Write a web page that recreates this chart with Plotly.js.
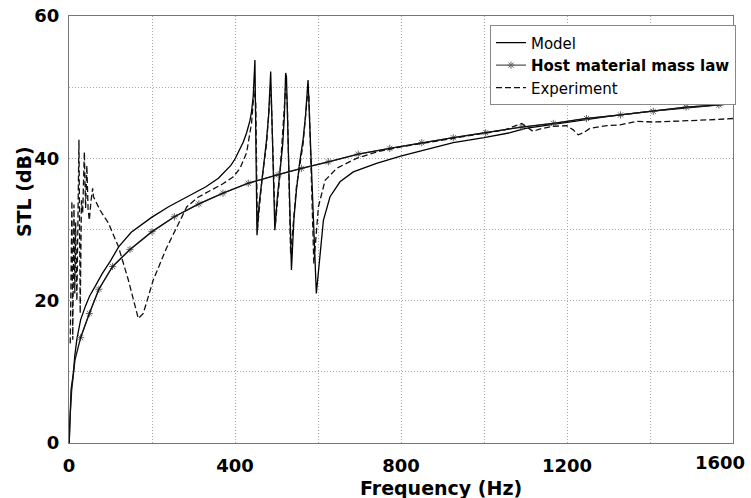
<!DOCTYPE html>
<html>
<head>
<meta charset="utf-8">
<script src="https://cdn.plot.ly/plotly-3.0.1.min.js"></script>
<style>html,body{margin:0;padding:0;background:#fff;}#chart{width:751px;height:498px;}</style>
</head>
<body>
<div id="chart"></div>
<script>
// Model (solid)
var modelF = [0.5, 2.4, 5, 10.4, 14, 19.3, 28, 40, 50, 63,
  80, 100, 120, 150, 199, 240, 284, 330, 360, 376,
  390, 400, 410, 420, 428, 436, 440, 444, 448, 453, 458,
  464, 470, 476, 481, 486, 496, 502, 508, 515, 519,
  522, 524, 536, 542, 548, 556, 564, 570, 576, 596,
  605, 613, 629, 653, 685, 741, 799, 862, 926, 1000,
  1063, 1100, 1200, 1300, 1400, 1500, 1600];
var modelV = [0, 5.1, 7.5, 9.8, 12.3, 14.7, 17.3, 19.3, 20.7, 22,
  23.8, 25.6, 27.6, 29.6, 31.7, 33.2, 34.6, 36.0, 37.2, 38.1,
  39.0, 39.9, 41.0, 42.3, 43.6, 45.3, 46.6, 48.8, 53.8, 29.2, 33.5,
  36.9, 39.5, 42.6, 46, 52.2, 29.9, 34.5, 37.9, 42, 46,
  52, 51.5, 24.3, 31.5, 35.5, 39.5, 42.6, 46, 51.0, 21.0,
  27.1, 31.3, 34.6, 36.7, 38.1, 39.3, 40.3, 41.2, 42.2, 42.9,
  43.6, 44.2, 45.1, 45.9, 46.6, 47.1, 47.7];

// Host material mass law
var massF = [0.5, 2, 6.4, 14.5, 28, 49, 72, 105, 147, 200,
  254, 313, 371, 432, 504, 560, 625, 697, 773, 850,
  926, 1004, 1091, 1167, 1247, 1329, 1408, 1487, 1566, 1600];
var massV = [0, 3, 7.4, 11.7, 14.8, 18.2, 21.6, 24.8, 27.2, 29.7,
  31.8, 33.6, 35.1, 36.5, 37.7, 38.6, 39.5, 40.6, 41.4, 42.2,
  42.9, 43.6, 44.4, 44.9, 45.6, 46.1, 46.6, 47.2, 47.5, 47.7];

// Experiment (dashed)
var expF = [3, 6, 7, 9, 11, 12, 14, 16, 19, 22, 24, 27, 30,
  33, 37, 40, 43, 46, 49, 53, 57, 59, 75,
  95, 119, 143, 167, 179, 203, 235, 284, 310, 340, 370,
  396, 412, 428, 440, 446, 450, 454, 465, 476, 484,
  487, 497, 508, 518, 522, 526, 534, 548, 564, 574,
  578, 590, 601, 617, 645, 693, 741, 799, 850, 926,
  1000, 1050, 1091, 1105, 1118, 1140, 1167, 1199, 1215, 1227,
  1240, 1255, 1296, 1328, 1368, 1408, 1450, 1488, 1540, 1600];
var expV = [14, 30, 34, 14.5, 31, 33.5, 21, 31, 20, 38, 42.6, 18.2, 34.1,
  32.3, 40.9, 33, 39, 32.8, 31.3, 34, 35.8, 34.6, 32.7,
  30.9, 27.6, 22.9, 17.5, 18.2, 22.9, 27.4, 33.2, 34.5, 35.5, 36.4,
  37.4, 38.6, 40.8, 45.0, 49.5, 48, 30, 37, 42, 48.5,
  49, 30.5, 37.5, 46, 50, 48, 26.5, 36, 42, 48.5,
  49, 25.2, 33.2, 36.9, 38.6, 40.0, 40.9, 41.6, 42.1, 42.8,
  43.6, 44.0, 44.9, 44.3, 43.8, 44.2, 44.5, 44.6, 44.0, 43.3,
  43.6, 44.2, 44.6, 44.7, 45.2, 45.1, 45.2, 45.2, 45.4, 45.6];

var seriesNames = ['Model', '<b>Host material mass law</b>', 'Experiment'];
var xTickVals = [0, 400, 800, 1200, 1600];
var xTickText = ['0', '400', '800', '1200', '1600'];
var yTickVals = [0, 20, 40, 60];
var yTickText = ['0', '20', '40', '60'];
var xTitle = 'Frequency (Hz)';
var yTitle = 'STL (dB)';

var FONT = 'DejaVu Sans, Verdana, sans-serif';

// marker subset of the mass-law points
var mkF = [], mkV = [];
for (var i = 0; i < massF.length; i++) {
  if (massF[i] >= 20 && massF[i] <= 1590) { mkF.push(massF[i]); mkV.push(massV[i]); }
}

var traces = [
  {x: modelF, y: modelV, name: seriesNames[0], type: 'scatter', mode: 'lines',
   legendgroup: 'a', legendrank: 1, line: {color: '#000', width: 1.3}},
  {x: mkF, y: mkV, name: seriesNames[1], type: 'scatter', mode: 'lines+markers',
   legendgroup: 'b', legendrank: 2, line: {color: '#555', width: 1.2},
   marker: {symbol: 'asterisk-open', size: 6, color: '#666', line: {color: '#666', width: 1}}},
  {x: massF, y: massV, type: 'scatter', mode: 'lines', showlegend: false,
   legendgroup: 'b', legendrank: 2, line: {color: '#111', width: 1.3}, hoverinfo: 'skip'},
  {x: expF, y: expV, name: seriesNames[2], type: 'scatter', mode: 'lines',
   legendgroup: 'c', legendrank: 3, line: {color: '#111', width: 1.3, dash: '6px,3px'}}
];

var tickFont = {family: FONT, size: 18, color: '#000', weight: 'bold'};
var lastIdx = xTickText.length - 1;
var GRID = '#a8a8a8', GDASH = '1px,2px';

var layout = {
  width: 751, height: 498,
  margin: {l: 69, r: 18, t: 16, b: 55, pad: 0},
  paper_bgcolor: '#fff', plot_bgcolor: '#fff',
  showlegend: true,
  legend: {x: 0.634, y: 0.978, xanchor: 'left', yanchor: 'top',
    bgcolor: '#fff', bordercolor: '#888', borderwidth: 1,
    font: {family: FONT, size: 15, color: '#000'},
    traceorder: 'grouped', tracegroupgap: 0, itemwidth: 30},
  xaxis: {range: [0, 1600], tickvals: xTickVals,
    ticktext: xTickText.map(function(t, k){ return k === lastIdx ? '' : t; }),
    tickfont: tickFont, ticks: 'outside', ticklen: 6, tickcolor: 'rgba(0,0,0,0)',
    showgrid: true, gridcolor: GRID, griddash: GDASH, gridwidth: 1,
    minor: {dtick: 200, showgrid: true, gridcolor: GRID, griddash: GDASH, gridwidth: 1},
    showline: true, mirror: true, linecolor: '#777', linewidth: 1, zeroline: false},
  yaxis: {range: [0, 60], tickvals: yTickVals, ticktext: yTickText,
    tickfont: tickFont, ticks: 'outside', ticklen: 5, tickcolor: 'rgba(0,0,0,0)',
    showgrid: true, gridcolor: GRID, griddash: GDASH, gridwidth: 1,
    minor: {dtick: 10, showgrid: true, gridcolor: GRID, griddash: GDASH, gridwidth: 1},
    showline: true, mirror: true, linecolor: '#777', linewidth: 1, zeroline: false},
  annotations: [
    // last x tick label, kept inside the page like the reference
    {text: '<b>' + xTickText[lastIdx] + '</b>', xref: 'x', yref: 'paper',
     x: xTickVals[lastIdx], y: 0, xshift: -13, yshift: -19,
     xanchor: 'center', yanchor: 'middle', showarrow: false,
     font: {family: FONT, size: 18, color: '#000'}},
    {text: '<b>' + xTitle + '</b>', xref: 'paper', yref: 'paper', x: 0.560, y: -0.105,
     xanchor: 'center', yanchor: 'middle', showarrow: false,
     font: {family: FONT, size: 19, color: '#000'}},
    {text: '<b>' + yTitle + '</b>', xref: 'paper', yref: 'paper', x: -0.0678, y: 0.590,
     xanchor: 'center', yanchor: 'middle', showarrow: false, textangle: -90,
     font: {family: FONT, size: 19, color: '#000'}}
  ]
};

Plotly.newPlot('chart', traces, layout, {staticPlot: true, displayModeBar: false});
</script>
</body>
</html>
